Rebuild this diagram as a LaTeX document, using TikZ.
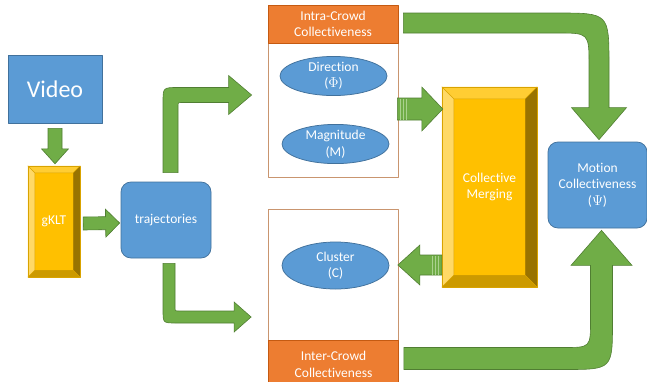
\documentclass[tikz,border=0pt]{standalone}
\usepackage{fontspec}
\setmainfont{Carlito}[Ligatures=NoCommon]
\usetikzlibrary{calc,shapes.geometric}
\definecolor{boxblue}{HTML}{5B9BD5}
\definecolor{boxblueline}{HTML}{41719C}
\definecolor{arrgreen}{HTML}{70AD47}
\definecolor{arrgreenline}{HTML}{507E32}
\definecolor{arrstripe}{HTML}{A9D18E}
\definecolor{crowdorange}{HTML}{ED7D31}
\definecolor{crowdline}{HTML}{C55A11}
\definecolor{bodyline}{HTML}{C9956F}
\definecolor{gold}{HTML}{FFC000}
\definecolor{goldlight}{HTML}{FFD966}
\definecolor{goldtop}{HTML}{FFCD33}
\definecolor{golddark}{HTML}{997300}
\definecolor{goldbottom}{HTML}{CC9A00}
\definecolor{goldline}{HTML}{D9A300}
% straight block arrow: from, to, shaft half, head half, head length
\newcommand\blockarrow[5]{%
  \coordinate (ba) at ($(#2)!#5!(#1)$);
  \draw[barrow] ($(#1)!#3!90:(#2)$) -- ($(ba)!#3!90:(#2)$) -- ($(ba)!#4!90:(#2)$) -- (#2)
    -- ($(ba)!#4!-90:(#2)$) -- ($(ba)!#3!-90:(#2)$) -- ($(#1)!#3!-90:(#2)$) -- cycle;}
% vertical first, then right: from, tip, dir, shaft half, head half, head length, outer r, inner r
\newcommand\elbowarrow[8]{%
  \draw[barrow] let \p1=(#1), \p2=(#2) in
    ({\x1-#4},\y1) -- ({\x1-#4},{\y2+(#3)*#4-(#3)*#7})
    .. controls ({\x1-#4},{\y2+(#3)*#4}) .. ({\x1-#4+#7},{\y2+(#3)*#4})
    -- ({\x2-#6},{\y2+(#3)*#4}) -- ({\x2-#6},{\y2+(#3)*#5}) -- (\x2,\y2)
    -- ({\x2-#6},{\y2-(#3)*#5}) -- ({\x2-#6},{\y2-(#3)*#4})
    -- ({\x1+#4+#8},{\y2-(#3)*#4})
    .. controls ({\x1+#4},{\y2-(#3)*#4}) .. ({\x1+#4},{\y2-(#3)*#4-(#3)*#8})
    -- ({\x1+#4},\y1) -- cycle;}
% right first, then vertical: from, tip, dir, shaft half, head half, head length, outer r, inner r
\newcommand\bendarrow[8]{%
  \draw[barrow] let \p1=(#1), \p2=(#2) in
    (\x1,{\y1-(#3)*#4}) -- ({\x2+#4-#7},{\y1-(#3)*#4})
    .. controls ({\x2+#4},{\y1-(#3)*#4}) .. ({\x2+#4},{\y1-(#3)*#4+(#3)*#7})
    -- ({\x2+#4},{\y2-(#3)*#6}) -- ({\x2+#5},{\y2-(#3)*#6}) -- (\x2,\y2)
    -- ({\x2-#5},{\y2-(#3)*#6}) -- ({\x2-#4},{\y2-(#3)*#6})
    -- ({\x2-#4},{\y1+(#3)*#4+(#3)*#8})
    .. controls ({\x2-#4},{\y1+(#3)*#4}) .. ({\x2-#4-#8},{\y1+(#3)*#4})
    -- (\x1,{\y1+(#3)*#4}) -- cycle;}
% bevel round a gold bar: node, width
\newcommand\bevel[2]{%
  \fill[goldtop] (#1.north west) -- (#1.north east) -- ($(#1.north east)+(-#2,#2)$) -- ($(#1.north west)+(#2,#2)$) -- cycle;
  \fill[goldlight] (#1.north west) -- (#1.south west) -- ($(#1.south west)+(#2,-#2)$) -- ($(#1.north west)+(#2,#2)$) -- cycle;
  \fill[golddark] (#1.north east) -- (#1.south east) -- ($(#1.south east)+(-#2,-#2)$) -- ($(#1.north east)+(-#2,#2)$) -- cycle;
  \fill[goldbottom] (#1.south west) -- (#1.south east) -- ($(#1.south east)+(-#2,-#2)$) -- ($(#1.south west)+(#2,-#2)$) -- cycle;
  \draw[goldline, line width=0.5pt] (#1.north west) rectangle (#1.south east);
  \draw[goldline, line width=0.4pt] ($(#1.north west)+(#2,#2)$) rectangle ($(#1.south east)+(-#2,-#2)$)
    (#1.north west) -- ++(#2,#2) (#1.north east) -- ++(-#2,#2)
    (#1.south west) -- ++(#2,-#2) (#1.south east) -- ++(-#2,-#2);}
\tikzset{
  txt/.style={text=white, align=center, inner sep=0pt, font=\fontsize{13.5}{16.5}\selectfont},
  bluebox/.style={txt, draw=boxblueline, fill=boxblue, line width=0.75pt},
  roundbox/.style={bluebox, rounded corners=10pt},
  phase/.style={bluebox, ellipse, minimum width=107pt},
  crowdhead/.style={txt, draw=crowdline, fill=crowdorange, line width=0.6pt, minimum width=130pt},
  crowdbody/.style={draw=bodyline, fill=white, line width=0.8pt, minimum width=130pt},
  goldbar/.style={txt, fill=gold},
  barrow/.style={draw=arrgreenline, fill=arrgreen, line width=0.6pt, line join=miter},
  stripe/.style={line width=0.7pt}
}
\begin{document}
\begin{tikzpicture}[x=1pt, y=-1pt, line join=round]
  \useasboundingbox (0,0) rectangle (647,381);
  % nodes
  \node[bluebox, minimum width=94pt, minimum height=68pt, font=\fontsize{24}{28}\selectfont] (video) at (55,89) {Video};
  \node[goldbar, minimum width=52pt, minimum height=111pt] (gklt) at (54,221.5) {};
  \bevel{gklt}{7}
  \node[txt, font=\fontsize{13.5}{16}\selectfont] (gkltlabel) at (gklt) {gKLT};
  \node[roundbox, minimum width=90pt, minimum height=76pt] (traj) at (166,220) {trajectories};
  \node[crowdbody, minimum height=134pt] (intrabody) at (333,110) {};
  \node[crowdhead, minimum height=38pt] (intrahead) at (333,24) {Intra-Crowd\\Collectiveness};
  \node[phase, minimum height=38pt] (dir) at (333.5,76) {Direction\\($\Phi$)};
  \node[phase, minimum height=38pt] (mag) at (335.5,144) {Magnitude\\(M)};
  \node[crowdbody, minimum height=131pt] (interbody) at (333.5,274.5) {};
  \node[crowdhead, minimum height=49pt] (interfoot) at (333.5,364.5) {Inter-Crowd\\Collectiveness};
  \node[phase, minimum height=47pt] (cluster) at (335.5,265.5) {Cluster\\(C)};
  \node[goldbar, minimum width=95pt, minimum height=200pt] (merge) at (489.5,187) {};
  \bevel{merge}{12}
  \node[txt] (mergelabel) at (merge) {Collective\\Merging};
  \node[roundbox, minimum width=99pt, minimum height=86pt] (motion) at (597.5,185) {Motion\\Collectiveness\\($\Psi$)};
  % straight arrows
  \coordinate (a1) at ($(video.south)+(0,5)$);
  \coordinate (a2) at ($(gklt.north)+(1,-2)$);
  \blockarrow{a1}{a2}{7pt}{13.5pt}{15pt}
  \coordinate (a3) at ($(gklt.east)+(3,2)$);
  \coordinate (a4) at ($(traj.west)+(-1,3)$);
  \blockarrow{a3}{a4}{6.5pt}{14pt}{14pt}
  \coordinate (a5) at ($(intrabody.east)+(-1,-1)$);
  \coordinate (a6) at ($(merge.west)+(1,-78)$);
  \blockarrow{a5}{a6}{11pt}{22pt}{21pt}
  \foreach \d in {3,6,9} \draw[stripe, arrstripe] ($(a5)+(\d,-10.5)$) -- ($(a5)+(\d,10.5)$);
  \coordinate (a7) at ($(merge.west)+(0,78)$);
  \coordinate (a8) at ($(interbody.east)+(-1,-9.5)$);
  \blockarrow{a7}{a8}{10pt}{20pt}{22pt}
  \foreach \d in {3,6,9} \draw[stripe, arrstripe] ($(a7)+(-\d,-9.5)$) -- ($(a7)+(-\d,9.5)$);
  % bent arrows
  \coordinate (b1) at ($(traj.north)+(4.5,-9)$);
  \coordinate (b2) at ($(intrabody.west)+(-16,-15)$);
  \elbowarrow{b1}{b2}{1}{7.5pt}{19.5pt}{23pt}{15pt}{4pt}
  \coordinate (b3) at ($(traj.south)+(3,5)$);
  \coordinate (b4) at ($(interbody.west)+(-17,42.5)$);
  \elbowarrow{b3}{b4}{-1}{6pt}{15pt}{17pt}{13pt}{4pt}
  \coordinate (c1) at ($(intrahead.east)+(5,-1)$);
  \coordinate (c2) at ($(motion.north)+(1.5,-2)$);
  \bendarrow{c1}{c2}{-1}{10pt}{27.5pt}{32pt}{52pt}{32pt}
  \coordinate (c3) at ($(interfoot.east)+(5,-6)$);
  \coordinate (c4) at ($(motion.south)+(4,2)$);
  \bendarrow{c3}{c4}{1}{11pt}{30.5pt}{35pt}{48pt}{27pt}
\end{tikzpicture}
\end{document}
